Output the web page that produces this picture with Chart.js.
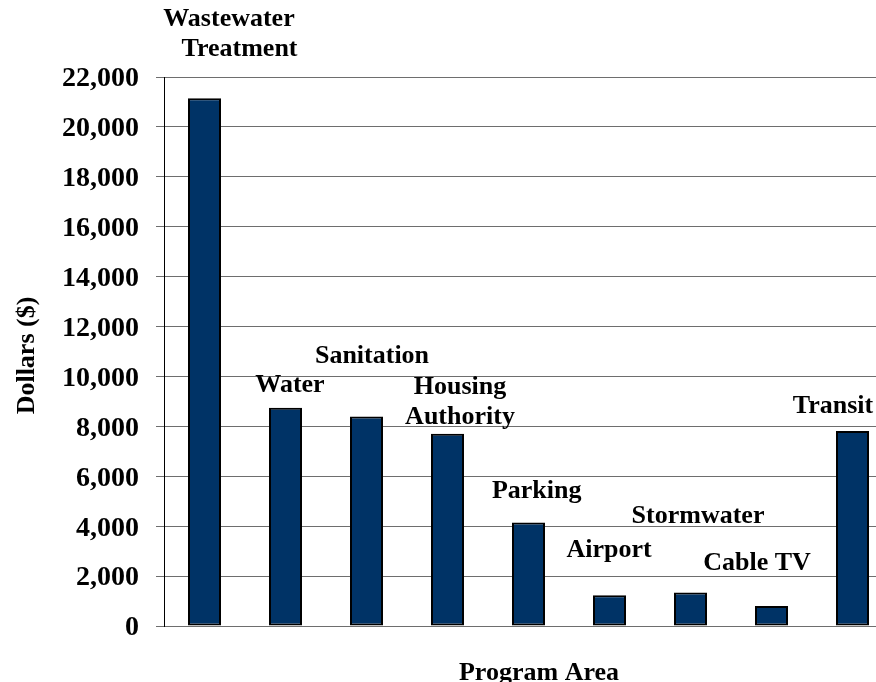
<!DOCTYPE html>
<html>
<head>
<meta charset="utf-8">
<script src="https://cdn.jsdelivr.net/npm/chart.js@4"></script>
<style>
    html, body { margin: 0; padding: 0; background: #fff; overflow: hidden; }
    #wrap { width: 876px; height: 682px; overflow: hidden; }
</style>
</head>
<body>
<div id="wrap"><canvas id="program-area-chart" width="900" height="682"></canvas></div>
<script>
const categories = ['Wastewater Treatment', 'Water', 'Sanitation', 'Housing Authority', 'Parking', 'Airport', 'Stormwater', 'Cable TV', 'Transit'];
const labelLines = [['Wastewater', 'Treatment'], ['Water'], ['Sanitation'], ['Housing', 'Authority'], ['Parking'], ['Airport'], ['Stormwater'], ['Cable TV'], ['Transit']];
const dollars = [21150, 8750, 8400, 7700, 4150, 1230, 1340, 800, 7810];
const yTicks = [0, 2000, 4000, 6000, 8000, 10000, 12000, 14000, 16000, 18000, 20000, 22000];
const xTitle = 'Program Area';
const yTitle = 'Dollars ($)';

const FONT = "'Liberation Serif', 'Times New Roman', serif";

// hand placed data labels: [dx from bar centre, baseline offset from bar top] per line
const labelNudge = [
    [[24.5, -72], [35, -42.5]],
    [[4.5, -16]],
    [[5.5, -53]],
    [[12.5, -40.3], [12.5, -10.3]],
    [[8.2, -24.4]],
    [[-0.5, -38]],
    [[7.5, -69.6]],
    [[-14.5, -36.4]],
    [[-19.5, -17.7]]
];

function boldText(ctx, text, x, y, size, align) {
    ctx.save();
    ctx.font = `bold ${size}px ${FONT}`;
    ctx.textAlign = align;
    ctx.textBaseline = 'alphabetic';
    ctx.fillText(text, x, y);
    ctx.restore();
}

const textPlugin = {
    id: 'textPlugin',
    afterDraw(chart) {
        const ctx = chart.ctx;
        const ys = chart.scales.y;
        const area = chart.chartArea;
        ctx.fillStyle = '#000';

        yTicks.forEach(v => {
            boldText(ctx, v.toLocaleString('en-US'), ys.right - 25, ys.getPixelForValue(v) + 9.4, 28, 'right');
        });

        const meta = chart.getDatasetMeta(0);
        meta.data.forEach((bar, i) => {
            labelLines[i].forEach((line, j) => {
                const [dx, dy] = labelNudge[i][j];
                boldText(ctx, line, bar.x + dx, bar.y + dy, 26, 'center');
            });
        });

        boldText(ctx, xTitle, 539, 680, 26, 'center');

        ctx.save();
        ctx.font = `bold 26px ${FONT}`;
        ctx.textAlign = 'center';
        ctx.textBaseline = 'alphabetic';
        ctx.translate(34, (area.top + area.bottom) / 2 + 4);
        ctx.rotate(-Math.PI / 2);
        ctx.fillText(yTitle, 0, 0);
        ctx.restore();
    }
};

function buildChart() {
    const ctx = document.getElementById('program-area-chart').getContext('2d');
    new Chart(ctx, {
        type: 'bar',
        data: {
            labels: categories,
            datasets: [{
                label: 'Dollars',
                data: dollars,
                backgroundColor: '#003366',
                borderColor: '#000',
                borderWidth: 2,
                borderSkipped: false,
                barPercentage: 33 / 81,
                categoryPercentage: 1
            }]
        },
        options: {
            responsive: false,
            animation: false,
            devicePixelRatio: 1,
            layout: {
                padding: { left: 0, top: 77, right: 7, bottom: 56 }
            },
            plugins: {
                legend: { display: false },
                tooltip: { enabled: false }
            },
            scales: {
                x: {
                    display: false
                },
                y: {
                    min: 0,
                    max: 22000,
                    afterBuildTicks: scale => {
                        scale.ticks = yTicks.map(v => ({ value: v }));
                    },
                    afterFit: scale => {
                        scale.width = 164;
                    },
                    ticks: { display: false },
                    grid: {
                        color: '#6e6e6e',
                        lineWidth: 1,
                        tickLength: 8,
                        drawTicks: true
                    },
                    border: { color: '#000', width: 1 }
                }
            }
        },
        plugins: [textPlugin]
    });
}

document.addEventListener('DOMContentLoaded', () => {
    document.fonts.load(`bold 26px 'Liberation Serif'`)
        .catch(() => null)
        .then(buildChart);
});
</script>
</body>
</html>
